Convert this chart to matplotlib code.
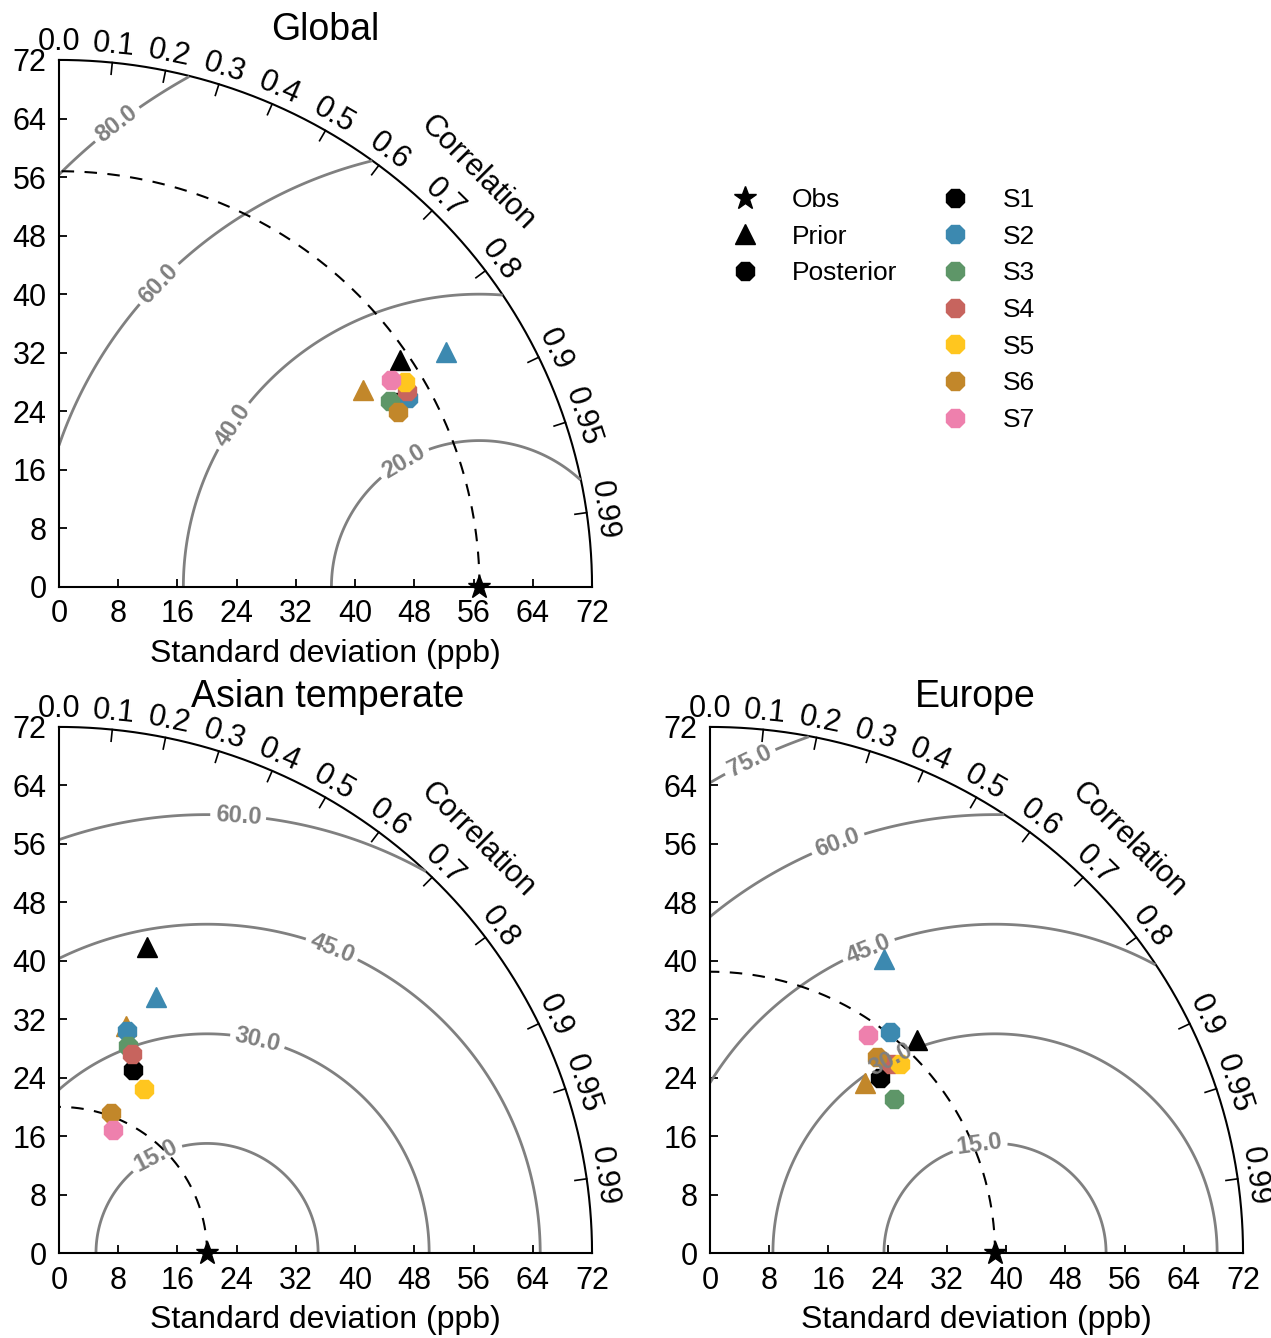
import numpy as np
import matplotlib.pyplot as plt
from matplotlib.lines import Line2D

plt.rcParams['font.family'] = ['Liberation Sans', 'DejaVu Sans']

# experiments and their colours
names = ['S1', 'S2', 'S3', 'S4', 'S5', 'S6', 'S7']
colors = ['black', '#3c89b0', '#5e9668', '#c7645e', '#ffc61f', '#c2872a', '#ee80ad']
prior_names = ['S1', 'S2', 'S6']

corr_ticks = [0.0, 0.1, 0.2, 0.3, 0.4, 0.5, 0.6, 0.7, 0.8, 0.9, 0.95, 0.99]

# Global
glob_obs = 56.8
glob_prior_std = [55.55, 61.36, 49.12]
glob_prior_corr = [0.830, 0.852, 0.837]
glob_post_std = [52.33, 53.70, 51.46, 54.10, 54.40, 51.66, 53.07]
glob_post_corr = [0.875, 0.877, 0.869, 0.869, 0.858, 0.887, 0.846]
glob_rms = [20, 40, 60, 80]
glob_rms_lab = [(46.6, 17.1), (23.4, 22.1), (13.6, 41.3), (8.0, 63.0)]

# Asian temperate
asia_obs = 20.0
asia_prior_std = [43.56, 37.36, 32.40]
asia_prior_corr = [0.273, 0.350, 0.281]
asia_post_std = [27.00, 31.74, 29.81, 29.00, 25.27, 20.38, 18.41]
asia_post_corr = [0.369, 0.288, 0.314, 0.338, 0.455, 0.348, 0.397]
asia_rms = [15, 30, 45, 60]
asia_rms_lab = [(13.4, 12.7), (26.8, 29.0), (36.9, 41.7), (24.2, 59.7)]

# Europe
euro_obs = 38.5
euro_prior_std = [40.46, 46.65, 31.23]
euro_prior_corr = [0.692, 0.504, 0.669]
euro_post_std = [33.17, 38.76, 32.56, 35.65, 36.49, 34.99, 36.69]
euro_post_corr = [0.693, 0.627, 0.762, 0.687, 0.704, 0.643, 0.583]
euro_rms = [15, 30, 45, 60, 75]
euro_rms_lab = [(36.5, 14.3), (24.3, 26.6), (21.6, 41.1), (17.3, 56.0), (5.4, 67.3)]

SMAX = 72
FS = 22


def to_xy(std, corr):
    std = np.asarray(std)
    th = np.arccos(np.asarray(corr))
    return std * np.cos(th), std * np.sin(th)


def taylor(ax, obs, prior_std, prior_corr, post_std, post_corr, levels, lab_pos):
    ax.set_xlim(0, SMAX)
    ax.set_ylim(0, SMAX)
    for s in ['top', 'right']:
        ax.spines[s].set_visible(False)
    for s in ['left', 'bottom']:
        ax.spines[s].set_linewidth(1.5)
    ticks = np.arange(0, SMAX + 1, 8)
    ax.set_xticks(ticks)
    ax.set_yticks(ticks)
    ax.tick_params(direction='in', length=6, width=1.3, labelsize=FS, pad=9)
    ax.set_xlabel('Standard deviation (ppb)', fontsize=23, labelpad=7)

    # outer arc
    t = np.linspace(0, np.pi / 2, 300)
    ax.plot(SMAX * np.cos(t), SMAX * np.sin(t), color='k', lw=1.5, clip_on=False)

    # correlation ticks and labels
    for c in corr_ticks:
        th = np.arccos(c)
        if c > 0:
            ax.plot([SMAX * np.cos(th), (SMAX - 1.6) * np.cos(th)],
                    [SMAX * np.sin(th), (SMAX - 1.6) * np.sin(th)], color='k', lw=1.2)
        ax.text(74.4 * np.cos(th), 74.4 * np.sin(th), str(c), fontsize=FS,
                rotation=np.degrees(th) - 90, rotation_mode='anchor',
                ha='center', va='center', clip_on=False)
    ax.text(80 * np.cos(np.pi / 4), 80 * np.sin(np.pi / 4), 'Correlation',
            fontsize=FS, rotation=-45, rotation_mode='anchor', ha='center', va='center')

    # centred RMS difference contours
    g = np.linspace(0, SMAX, 700)
    X, Y = np.meshgrid(g, g)
    R = np.sqrt((X - obs) ** 2 + Y ** 2)
    R[np.hypot(X, Y) > SMAX] = np.nan
    cs = ax.contour(X, Y, R, levels=levels, colors='#808080', linewidths=2.0)
    lbls = ax.clabel(cs, levels, manual=lab_pos, fmt='%.1f', inline=True,
                     fontsize=17, colors='#808080')
    for lb in lbls:
        lb.set_fontweight('bold')
        lb.set_zorder(7)

    # reference std arc
    ax.plot(obs * np.cos(t), obs * np.sin(t), color='k', ls=(0, (6, 5)), lw=1.5)

    px, py = to_xy(prior_std, prior_corr)
    for i, n in enumerate(prior_names):
        ax.plot(px[i], py[i], marker='^', ls='', ms=14, color=colors[names.index(n)], zorder=4)
    qx, qy = to_xy(post_std, post_corr)
    for i in range(len(names)):
        ax.plot(qx[i], qy[i], marker='8', ls='', ms=14, color=colors[i], zorder=5)
    ax.plot(obs, 0, marker='*', ls='', ms=17, color='k', clip_on=False, zorder=6)


fig = plt.figure(figsize=(12.71, 13.38), dpi=100)
ax1 = fig.add_axes([0.0464, 0.5613, 0.4194, 0.3939])
ax2 = fig.add_axes([0.0464, 0.0635, 0.4194, 0.3932])
ax3 = fig.add_axes([0.5586, 0.0635, 0.4194, 0.3932])

taylor(ax1, glob_obs, glob_prior_std, glob_prior_corr, glob_post_std, glob_post_corr,
       glob_rms, glob_rms_lab)
taylor(ax2, asia_obs, asia_prior_std, asia_prior_corr, asia_post_std, asia_post_corr,
       asia_rms, asia_rms_lab)
taylor(ax3, euro_obs, euro_prior_std, euro_prior_corr, euro_post_std, euro_post_corr,
       euro_rms, euro_rms_lab)

fig.text(0.2557, 0.9776, 'Global', fontsize=27, ha='center', va='center')
fig.text(0.2577, 0.4791, 'Asian temperate', fontsize=27, ha='center', va='center')
fig.text(0.767, 0.4791, 'Europe', fontsize=27, ha='center', va='center')

# legends
h1 = [Line2D([], [], marker='*', color='k', ls='', ms=17),
      Line2D([], [], marker='^', color='k', ls='', ms=14),
      Line2D([], [], marker='8', color='k', ls='', ms=14)]
fig.legend(h1, ['Obs', 'Prior', 'Posterior'], loc='upper left',
           bbox_to_anchor=(0.5758, 0.8595), frameon=False, fontsize=19,
           handlelength=1.0, handletextpad=1.28, labelspacing=0.48,
           borderpad=0, borderaxespad=0)
h2 = [Line2D([], [], marker='8', color=c, ls='', ms=14) for c in colors]
fig.legend(h2, names, loc='upper left',
           bbox_to_anchor=(0.741, 0.8595), frameon=False, fontsize=19,
           handlelength=1.0, handletextpad=1.3, labelspacing=0.48,
           borderpad=0, borderaxespad=0)

fig.savefig('out.png', dpi=100)
